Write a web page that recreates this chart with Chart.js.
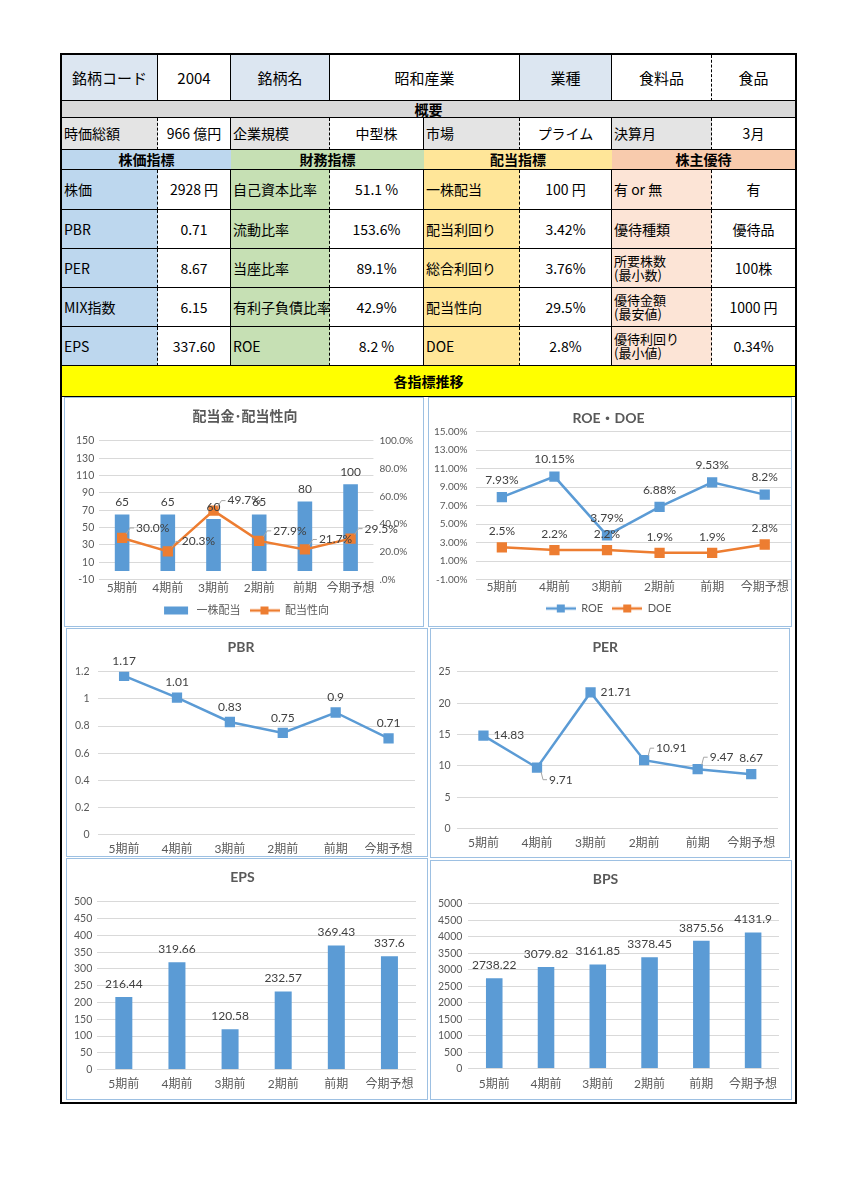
<!DOCTYPE html>
<html>
<head>
<meta charset="utf-8">
<script src="https://cdn.jsdelivr.net/npm/chart.js@4.4.0/dist/chart.umd.min.js"></script>
<style>
body { margin: 0; background: #fff; width: 868px; height: 1200px; position: relative; font-family: "Noto Sans CJK JP", sans-serif; }
#frame { position: absolute; left: 60px; top: 53px; width: 737px; height: 1051px; border: 2px solid #000; box-sizing: border-box; }
.cell { position: absolute; box-sizing: border-box; display: flex; align-items: center; font-size: 14px; color: #000;
        border-bottom: 1px solid #000; padding: 0 2px; line-height: 1.05; white-space: nowrap; }
.box { position: absolute; box-sizing: border-box; border: 1.5px solid #9dc0e2; background: #fff; }
</style>
</head>
<body>
<div id="frame"></div>
<div id="table"></div>
<div class="box" style="left:64px;top:397px;width:360px;height:230px"><canvas id="c1"></canvas></div>
<div class="box" style="left:428px;top:397px;width:364px;height:230px"><canvas id="c2"></canvas></div>
<div class="box" style="left:66px;top:628px;width:362px;height:229px"><canvas id="c3"></canvas></div>
<div class="box" style="left:430px;top:628px;width:360px;height:230px"><canvas id="c4"></canvas></div>
<div class="box" style="left:66px;top:858px;width:362px;height:242px"><canvas id="c5"></canvas></div>
<div class="box" style="left:430px;top:860px;width:362px;height:240px"><canvas id="c6"></canvas></div>
<script>
// chart data
const periods = ['5期前', '4期前', '3期前', '2期前', '前期', '今期予想'];
const dividend = [65, 65, 60, 65, 80, 100];
const payoutRatio = [30.0, 20.3, 49.7, 27.9, 21.7, 29.5];
const roe = [7.93, 10.15, 3.79, 6.88, 9.53, 8.2];
const doe = [2.5, 2.2, 2.2, 1.9, 1.9, 2.8];
const pbr = [1.17, 1.01, 0.83, 0.75, 0.9, 0.71];
const per = [14.83, 9.71, 21.71, 10.91, 9.47, 8.67];
const eps = [216.44, 319.66, 120.58, 232.57, 369.43, 337.6];
const bps = [2738.22, 3079.82, 3161.85, 3378.45, 3875.56, 4131.9];

// tick labels
const dividendTicks = [-10, 10, 30, 50, 70, 90, 110, 130, 150];
const payoutTicks = [0, 20, 40, 60, 80, 100];
const roeTicks = [-1, 1, 3, 5, 7, 9, 11, 13, 15];
const pbrTicks = [0, 0.2, 0.4, 0.6, 0.8, 1, 1.2];
const perTicks = [0, 5, 10, 15, 20, 25];
const epsTicks = [0, 50, 100, 150, 200, 250, 300, 350, 400, 450, 500];
const bpsTicks = [0, 500, 1000, 1500, 2000, 2500, 3000, 3500, 4000, 4500, 5000];

// ---- table ----
const X = [62, 158, 231, 330, 424, 520, 612, 712, 795];
const Y = [55, 101, 118, 150, 170, 210, 249, 288, 327, 366, 397];
const BLUE0 = '#dce6f1', BLUE = '#bdd7ee', GREEN = '#c6e0b4', YELLOW = '#ffe699', PINK = '#fce4d6', PINKH = '#f8cbad', GREY = '#d9d9d9', GREY2 = '#e4e4e4';

// [row, col1, col2, text, bg, align, right border, bold]
const cells = [
  [0, 0, 1, '銘柄コード', BLUE0, 'c', 's'], [0, 1, 2, '2004', '#fff', 'c', 's'], [0, 2, 3, '銘柄名', BLUE0, 'c', 's'],
  [0, 3, 5, '昭和産業', '#fff', 'c', 's'], [0, 5, 6, '業種', BLUE0, 'c', 's'], [0, 6, 7, '食料品', '#fff', 'c', 'd'], [0, 7, 8, '食品', '#fff', 'c', 'n'],
  [1, 0, 8, '概要', GREY, 'c', 'n', 1],
  [2, 0, 1, '時価総額', GREY2, 'l', 'd'], [2, 1, 2, '966 億円', '#fff', 'c', 's'], [2, 2, 3, '企業規模', GREY2, 'l', 'd'], [2, 3, 4, '中型株', '#fff', 'c', 's'],
  [2, 4, 5, '市場', GREY2, 'l', 'd'], [2, 5, 6, 'プライム', '#fff', 'c', 's'], [2, 6, 7, '決算月', GREY2, 'l', 'd'], [2, 7, 8, '3月', '#fff', 'c', 'n'],
  [3, 0, 2, '株価指標', BLUE, 'c', 'n', 1], [3, 2, 4, '財務指標', GREEN, 'c', 'n', 1], [3, 4, 6, '配当指標', YELLOW, 'c', 'n', 1], [3, 6, 8, '株主優待', PINKH, 'c', 'n', 1],
  [9, 0, 8, '各指標推移', '#ffff00', 'c', 'n', 1]
];
const rowsData = [
  ['株価', '2928 円', '自己資本比率', '51.1 %', '一株配当', '100 円', '有 or 無', '有'],
  ['PBR', '0.71', '流動比率', '153.6%', '配当利回り', '3.42%', '優待種類', '優待品'],
  ['PER', '8.67', '当座比率', '89.1%', '総合利回り', '3.76%', '所要株数<br>(最小数)', '100株'],
  ['MIX指数', '6.15', '有利子負債比率', '42.9%', '配当性向', '29.5%', '優待金額<br>(最安値)', '1000 円'],
  ['EPS', '337.60', 'ROE', '8.2 %', 'DOE', '2.8%', '優待利回り<br>(最小値)', '0.34%']
];
const groupBg = [BLUE, GREEN, YELLOW, PINK];
rowsData.forEach((r, i) => {
  r.forEach((t, k) => {
    const isLabel = k % 2 === 0;
    cells.push([4 + i, k, k + 1, t, isLabel ? groupBg[k >> 1] : '#fff', isLabel ? 'l' : 'c', k === 7 ? 'n' : (isLabel ? 'd' : 's')]);
  });
});

const table = document.getElementById('table');
cells.forEach(([r, c1, c2, text, bg, align, rb, bold]) => {
  const d = document.createElement('div');
  d.className = 'cell';
  d.style.left = X[c1] + 'px';
  d.style.top = Y[r] + 'px';
  d.style.width = (X[c2] - X[c1]) + 'px';
  d.style.height = (Y[r + 1] - Y[r]) + 'px';
  d.style.background = bg;
  d.style.justifyContent = align === 'c' ? 'center' : 'flex-start';
  if (rb === 's') d.style.borderRight = '1px solid #000';
  if (rb === 'd') d.style.borderRight = '1px dashed #000';
  if (bold) d.style.fontWeight = 'bold';
  if (r === 0) d.style.fontSize = '15px';
  if (text.includes('<br>')) d.style.fontSize = '13px';
  d.innerHTML = text;
  table.appendChild(d);
});

// ---- charts ----
const FONT = "Lato, 'Noto Sans CJK JP', sans-serif";
const BLUE_S = '#5b9bd5', ORANGE_S = '#ed7d31';
const labelCfg = {};

const valueLabels = {
  id: 'valueLabels',
  afterDatasetsDraw(chart) {
    const cfg = labelCfg[chart.canvas.id];
    if (!cfg) return;
    const ctx = chart.ctx;
    ctx.save();
    ctx.font = '12px ' + FONT;
    ctx.fillStyle = '#404040';
    ctx.strokeStyle = '#a6a6a6';
    ctx.lineWidth = 1;
    ctx.textBaseline = 'middle';
    cfg.forEach((c, i) => {
      if (!c) return;
      const ds = chart.data.datasets[i];
      chart.getDatasetMeta(i).data.forEach((el, j) => {
        const txt = c.fmt(ds.data[j]);
        const pos = Array.isArray(c.pos) ? c.pos[j] : c.pos;
        const x = el.x, y = el.y;
        if (pos === 'top') {
          ctx.textAlign = 'center';
          ctx.fillText(txt, x, y - c.off);
        } else if (pos === 'right') {
          ctx.textAlign = 'left';
          ctx.fillText(txt, x + 10, y);
        } else {
          const s = pos === 'ru' ? -1 : 1;
          ctx.beginPath();
          ctx.moveTo(x + 4, y + s * 4);
          ctx.lineTo(x + c.dx - 6, y + s * c.dy);
          ctx.lineTo(x + c.dx - 2, y + s * c.dy);
          ctx.stroke();
          ctx.textAlign = 'left';
          ctx.fillText(txt, x + c.dx, y + s * c.dy);
        }
      });
    });
    ctx.restore();
  }
};

const raw = v => String(v);
const pct = v => v + '%';

function yAxis(ticks, fmt, size, pad, extra) {
  const ax = {
    min: ticks[0], max: ticks[ticks.length - 1],
    afterBuildTicks: s => { s.ticks = ticks.map(v => ({ value: v })); },
    grid: { color: '#d9d9d9', drawTicks: false },
    border: { display: false },
    ticks: { color: '#595959', font: { size: size, family: FONT }, padding: pad, autoSkip: false, callback: fmt || raw }
  };
  return Object.assign(ax, extra || {});
}

function xAxis(pad) {
  return {
    offset: true,
    grid: { display: false, drawTicks: false }, border: { display: false },
    ticks: { color: '#595959', font: { size: 12, family: FONT }, maxRotation: 0, autoSkip: false, padding: pad },
    afterFit: s => { s.paddingLeft = 0; s.paddingRight = 0; }
  };
}

function legendIcon(color, kind) {
  const c = document.createElement('canvas');
  c.width = 30; c.height = 10;
  const g = c.getContext('2d');
  g.fillStyle = color; g.strokeStyle = color;
  if (kind === 'bar') {
    g.fillRect(3, 1, 24, 8);
  } else {
    g.lineWidth = 2.5;
    g.beginPath(); g.moveTo(0, 5); g.lineTo(30, 5); g.stroke();
    g.fillRect(11, 1, 8, 8);
  }
  return c;
}

function legendOpts(icons) {
  return {
    display: true, position: 'bottom',
    labels: {
      usePointStyle: true, pointStyleWidth: 30, boxHeight: 10, padding: 9,
      color: '#595959', font: { size: 11, family: FONT },
      generateLabels: chart => chart.data.datasets.map((ds, i) => ({
        text: ds.label, pointStyle: icons[i], fontColor: '#595959',
        fillStyle: 'transparent', strokeStyle: 'transparent', lineWidth: 0, datasetIndex: i, hidden: false
      }))
    }
  };
}

function titleOpts(text, top, bottom) {
  return { display: true, text: text, color: '#595959', font: { size: 14, weight: 'bold', family: FONT }, padding: { top: top, bottom: bottom } };
}

function lineSet(label, data, color) {
  return {
    type: 'line', label: label, data: data, borderColor: color, backgroundColor: color,
    borderWidth: 2.5, pointStyle: 'rect', pointRadius: 5.5, pointHoverRadius: 5.5, tension: 0
  };
}

function barSet(label, data) {
  return { type: 'bar', label: label, data: data, backgroundColor: BLUE_S, barPercentage: 0.32, categoryPercentage: 1 };
}

function makeChart(id, datasets, scales, plugins, padding) {
  return new Chart(document.getElementById(id), {
    data: { labels: periods, datasets: datasets },
    options: {
      responsive: true, maintainAspectRatio: false, animation: false,
      layout: { padding: padding, autoPadding: false },
      scales: scales,
      plugins: Object.assign({ legend: { display: false }, tooltip: { enabled: false } }, plugins)
    },
    plugins: [valueLabels]
  });
}

// 配当金・配当性向
const c1Bar = barSet('一株配当', dividend);
c1Bar.order = 2;
const c1Line = lineSet('配当性向', payoutRatio, ORANGE_S);
c1Line.yAxisID = 'y1';
c1Line.order = 1;
labelCfg.c1 = [
  { fmt: raw, pos: 'top', off: 12 },
  { fmt: v => v.toFixed(1) + '%', pos: 'ru', dx: 14, dy: 10 }
];
makeChart('c1', [c1Bar, c1Line], {
  x: xAxis(1),
  y: yAxis(dividendTicks, raw, 10.5, 5),
  y1: yAxis(payoutTicks, v => (v === 0 ? '.0' : v.toFixed(1)) + '%', 10, 6,
    { position: 'right', grid: { display: false, drawTicks: false } })
}, {
  title: titleOpts('配当金･配当性向', 10, 16),
  legend: legendOpts([legendIcon(BLUE_S, 'bar'), legendIcon(ORANGE_S, 'line')])
}, { left: 6, right: 4, top: 0, bottom: 0 });

// ROE・DOE
labelCfg.c2 = [{ fmt: pct, pos: 'top', off: 17 }, { fmt: pct, pos: 'top', off: 16 }];
makeChart('c2', [lineSet('ROE', roe, BLUE_S), lineSet('DOE', doe, ORANGE_S)], {
  x: xAxis(0),
  y: yAxis(roeTicks, v => v.toFixed(2) + '%', 10, 8)
}, {
  title: titleOpts('ROE・DOE', 12, 5),
  legend: legendOpts([legendIcon(BLUE_S, 'line'), legendIcon(ORANGE_S, 'line')])
}, { left: -3, right: 0, top: 0, bottom: 2 });

// PBR
labelCfg.c3 = [{ fmt: raw, pos: 'top', off: 15 }];
makeChart('c3', [lineSet('PBR', pbr, BLUE_S)], { x: xAxis(7), y: yAxis(pbrTicks, raw, 10.5, 8) },
  { title: titleOpts('PBR', 10, 16) }, { left: 0, right: 12, top: 0, bottom: -7 });

// PER
labelCfg.c4 = [{ fmt: raw, pos: ['right', 'rd', 'right', 'ru', 'ru', 'top'], off: 16, dx: 12, dy: 12 }];
makeChart('c4', [lineSet('PER', per, BLUE_S)], { x: xAxis(7), y: yAxis(perTicks, raw, 10.5, 6) },
  { title: titleOpts('PER', 10, 16) }, { left: 1.5, right: 11, top: 0, bottom: 0 });

// EPS
labelCfg.c5 = [{ fmt: raw, pos: 'top', off: 13 }];
makeChart('c5', [barSet('EPS', eps)], { x: xAxis(7), y: yAxis(epsTicks, raw, 10.5, 5) },
  { title: titleOpts('EPS', 10, 16) }, { left: 2, right: 11, top: 0, bottom: 1 });

// BPS
labelCfg.c6 = [{ fmt: raw, pos: 'top', off: 13 }];
makeChart('c6', [barSet('BPS', bps)], { x: xAxis(8), y: yAxis(bpsTicks, raw, 10.5, 6) },
  { title: titleOpts('BPS', 10, 16) }, { left: 1, right: 12, top: 0, bottom: 0 });
</script>
</body>
</html>
